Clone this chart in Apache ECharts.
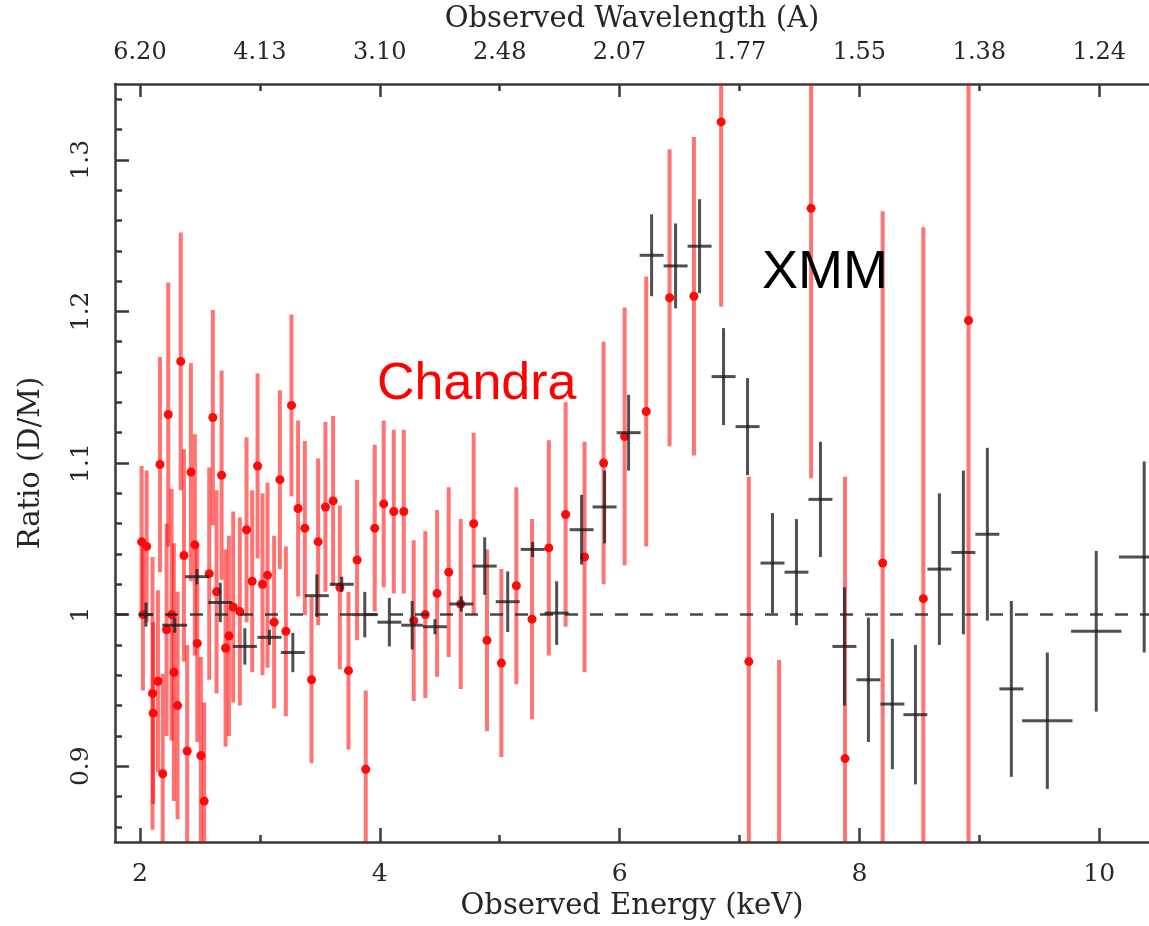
<!DOCTYPE html>
<html><head><meta charset="utf-8">
<script src="https://cdn.jsdelivr.net/npm/echarts@6/dist/echarts.min.js"></script>
<style>html,body{margin:0;padding:0;background:#fff}#c{width:1149px;height:926px}</style>
</head><body><div id="c"></div>
<script>
// ---- Chandra (red) : energy (keV), ratio, 1-sigma error
const chandraE = [2.014, 2.025, 2.056, 2.105, 2.11, 2.15, 2.167, 2.19, 2.222, 2.236, 2.264, 2.283, 2.314, 2.34, 2.367, 2.394, 2.425, 2.458, 2.478, 2.508, 2.536, 2.578, 2.608, 2.639, 2.681, 2.714, 2.742, 2.778, 2.833, 2.889, 2.936, 2.981, 3.022, 3.064, 3.119, 3.167, 3.217, 3.264, 3.319, 3.375, 3.431, 3.486, 3.547, 3.611, 3.667, 3.739, 3.811, 3.883, 3.958, 4.033, 4.117, 4.2, 4.283, 4.38, 4.478, 4.575, 4.675, 4.783, 4.894, 5.014, 5.139, 5.27, 5.41, 5.55, 5.708, 5.867, 6.042, 6.222, 6.417, 6.62, 6.847, 7.078, 7.33, 7.597, 7.88, 8.194, 8.533, 8.91];
const chandraR = [1.048, 1.000, 1.045, 0.948, 0.935, 0.956, 1.099, 0.895, 0.990, 1.132, 1.000, 0.962, 0.940, 1.167, 1.039, 0.910, 1.094, 1.046, 0.981, 0.907, 0.877, 1.027, 1.130, 1.015, 1.092, 0.978, 0.986, 1.005, 1.002, 1.056, 1.022, 1.098, 1.020, 1.026, 0.995, 1.089, 0.989, 1.138, 1.070, 1.057, 0.957, 1.048, 1.071, 1.075, 1.018, 0.963, 1.036, 0.898, 1.057, 1.073, 1.068, 1.068, 0.996, 1.000, 1.014, 1.028, 1.007, 1.060, 0.983, 0.968, 1.019, 0.997, 1.044, 1.066, 1.038, 1.100, 1.1175, 1.134, 1.209, 1.210, 1.325, 0.969, 0.780, 1.268, 0.905, 1.034, 1.0105, 1.194];
const chandraErr = [0.05, 0.05, 0.05, 0.09, 0.06, 0.06, 0.071, 0.066, 0.07, 0.087, 0.083, 0.085, 0.075, 0.085, 0.07, 0.07, 0.072, 0.073, 0.065, 0.065, 0.065, 0.07, 0.071, 0.067, 0.069, 0.065, 0.066, 0.063, 0.062, 0.061, 0.06, 0.061, 0.06, 0.061, 0.057, 0.059, 0.056, 0.06, 0.058, 0.0575, 0.055, 0.055, 0.056, 0.056, 0.054, 0.052, 0.053, 0.052, 0.055, 0.055, 0.054, 0.054, 0.053, 0.055, 0.055, 0.056, 0.056, 0.06, 0.06, 0.062, 0.065, 0.066, 0.071, 0.074, 0.076, 0.08, 0.085, 0.089, 0.098, 0.105, 0.122, 0.122, 0.19, 0.178, 0.186, 0.232, 0.245, 0.36];

// ---- XMM (black crosses): energy, half bin width, ratio, error
const xmmE = [2.05, 2.29, 2.475, 2.67, 2.875, 3.08, 3.275, 3.475, 3.683, 3.875, 4.08, 4.27, 4.46, 4.68, 4.875, 5.067, 5.275, 5.475, 5.683, 5.875, 6.075, 6.267, 6.467, 6.667, 6.867, 7.067, 7.275, 7.475, 7.675, 7.875, 8.075, 8.275, 8.467, 8.667, 8.867, 9.067, 9.267, 9.567, 9.975, 10.375];
const xmmHalfWidth = [0.06, 0.104, 0.1, 0.1, 0.1, 0.1, 0.1, 0.1, 0.1, 0.1, 0.1, 0.09, 0.1, 0.1, 0.1, 0.1, 0.1, 0.1, 0.1, 0.1, 0.1, 0.1, 0.1, 0.1, 0.1, 0.1, 0.1, 0.1, 0.1, 0.1, 0.1, 0.1, 0.1, 0.1, 0.1, 0.1, 0.1, 0.21, 0.21, 0.21];
const xmmR = [1.000, 0.993, 1.025, 1.008, 0.979, 0.985, 0.975, 1.0125, 1.020, 1.000, 0.995, 0.993, 0.992, 1.007, 1.032, 1.0085, 1.043, 1.001, 1.056, 1.071, 1.120, 1.237, 1.230, 1.243, 1.157, 1.124, 1.034, 1.028, 1.076, 0.979, 0.957, 0.941, 0.934, 1.030, 1.041, 1.053, 0.951, 0.930, 0.989, 1.038];
const xmmErr = [0.008, 0.005, 0.005, 0.013, 0.012, 0.005, 0.013, 0.014, 0.005, 0.015, 0.016, 0.016, 0.005, 0.005, 0.019, 0.020, 0.005, 0.021, 0.023, 0.024, 0.025, 0.027, 0.028, 0.031, 0.032, 0.032, 0.033, 0.035, 0.038, 0.039, 0.041, 0.043, 0.046, 0.050, 0.054, 0.057, 0.058, 0.045, 0.053, 0.063];

// ---- ticks
const energyMajorTicks = [2, 4, 6, 8, 10];
const energyMinorTicks = [3, 5, 7, 9];
const wavelengthTickE = [2, 3, 4, 5, 6, 7, 8, 9, 10];
const wavelengthLabels = ['6.20', '4.13', '3.10', '2.48', '2.07', '1.77', '1.55', '1.38', '1.24'];
const ratioMajorTicks = [0.9, 1.0, 1.1, 1.2, 1.3];
const ratioMinorTicks = [0.86, 0.88, 0.92, 0.94, 0.96, 0.98, 1.02, 1.04, 1.06, 1.08, 1.12, 1.14, 1.16, 1.18, 1.22, 1.24, 1.26, 1.28, 1.32, 1.34];
const ratioReference = 1;

const X_MIN = 1.792, X_MAX = 10.415, Y_MIN = 0.85, Y_MAX = 1.35;
const AX = '#3a3a3a';
const TXT = '#262626';
const SERIF = '"DejaVu Serif", serif';
const tickStyle = { color: AX, width: 2.5 };

function xAxisBase(pos) {
  return { type: 'value', position: pos, min: X_MIN, max: X_MAX, splitLine: { show: false },
    axisLine: { show: false, onZero: false } };
}
function yAxisBase() {
  return { type: 'value', position: 'left', min: Y_MIN, max: Y_MAX, splitLine: { show: false },
    axisLine: { show: false, onZero: false } };
}

const chart = echarts.init(document.getElementById('c'), null, { renderer: 'canvas' });

function clampY(v, cs) { return Math.min(Math.max(v, cs.y), cs.y + cs.height); }
function clampX(v, cs) { return Math.min(Math.max(v, cs.x), cs.x + cs.width); }

function renderChandra(params, api) {
  const cs = params.coordSys;
  const x = api.value(0), y = api.value(1), e = api.value(2);
  const c = api.coord([x, y]);
  const t = clampY(api.coord([x, y + e])[1], cs);
  const b = clampY(api.coord([x, y - e])[1], cs);
  const ch = [];
  if (b > t) ch.push({ type: 'line', shape: { x1: c[0], y1: t, x2: c[0], y2: b },
    style: { stroke: 'rgba(255,0,0,0.55)', lineWidth: 4 } });
  if (c[1] >= cs.y && c[1] <= cs.y + cs.height)
    ch.push({ type: 'circle', shape: { cx: c[0], cy: c[1], r: 4.5 }, style: { fill: '#ff0a0a' } });
  return { type: 'group', children: ch };
}
function renderXmm(params, api) {
  const cs = params.coordSys;
  const x = api.value(0), w = api.value(1), y = api.value(2), e = api.value(3);
  const c = api.coord([x, y]);
  const l = clampX(api.coord([x - w, y])[0], cs);
  const r = clampX(api.coord([x + w, y])[0], cs);
  const t = clampY(api.coord([x, y + e])[1], cs);
  const b = clampY(api.coord([x, y - e])[1], cs);
  const st = { stroke: 'rgba(30,30,30,0.78)', lineWidth: 3 };
  const ch = [];
  if (c[0] <= cs.x + cs.width) ch.push({ type: 'line', shape: { x1: c[0], y1: t, x2: c[0], y2: b }, style: st });
  ch.push({ type: 'line', shape: { x1: l, y1: c[1], x2: r, y2: c[1] }, style: st });
  return { type: 'group', children: ch };
}

const option = {
  animation: false,
  backgroundColor: '#fff',
  grid: { left: 115, right: 0, top: 83, bottom: 81 },
  xAxis: [
    Object.assign(xAxisBase('bottom'), {
      axisLine: { show: true, onZero: false, lineStyle: tickStyle },
      axisTick: { show: true, inside: true, length: 14, customValues: energyMajorTicks, lineStyle: tickStyle },
      axisLabel: { customValues: energyMajorTicks, margin: 20, color: TXT, fontFamily: SERIF, fontSize: 25 },
      name: 'Observed Energy (keV)', nameLocation: 'middle', nameGap: 50,
      nameTextStyle: { color: TXT, fontFamily: SERIF, fontSize: 29 }
    }),
    Object.assign(xAxisBase('bottom'), {
      axisTick: { show: true, inside: true, length: 7, customValues: energyMinorTicks, lineStyle: tickStyle },
      axisLabel: { show: false }
    }),
    Object.assign(xAxisBase('top'), {
      axisLine: { show: true, onZero: false, lineStyle: tickStyle },
      axisTick: { show: true, inside: true, length: 13, customValues: energyMajorTicks, lineStyle: tickStyle },
      axisLabel: { customValues: wavelengthTickE, margin: 19, color: TXT, fontFamily: SERIF, fontSize: 24,
        formatter: function (v) { const i = wavelengthTickE.indexOf(Math.round(v)); return i >= 0 ? wavelengthLabels[i] : ''; } },
      name: 'Observed Wavelength (A)', nameLocation: 'middle', nameGap: 50,
      nameTextStyle: { color: TXT, fontFamily: SERIF, fontSize: 29 }
    }),
    Object.assign(xAxisBase('top'), {
      axisTick: { show: true, inside: true, length: 7, customValues: energyMinorTicks, lineStyle: tickStyle },
      axisLabel: { show: false }
    })
  ],
  yAxis: [
    Object.assign(yAxisBase(), {
      axisLine: { show: true, onZero: false, lineStyle: tickStyle },
      axisTick: { show: true, inside: true, length: 14, customValues: ratioMajorTicks, lineStyle: tickStyle },
      axisLabel: { customValues: ratioMajorTicks, rotate: 90, margin: 21, color: TXT, fontFamily: SERIF, fontSize: 25 },
      name: 'Ratio (D/M)', nameLocation: 'middle', nameRotate: 90, nameGap: 69,
      nameTextStyle: { color: TXT, fontFamily: SERIF, fontSize: 29 }
    }),
    Object.assign(yAxisBase(), {
      axisTick: { show: true, inside: true, length: 7, customValues: ratioMinorTicks, lineStyle: tickStyle },
      axisLabel: { show: false }
    })
  ],
  series: [
    { type: 'custom', name: 'Chandra', xAxisIndex: 0, yAxisIndex: 0, z: 2, renderItem: renderChandra,
      data: chandraE.map((e, i) => [e, chandraR[i], chandraErr[i]]) },
    { type: 'line', name: 'ref', xAxisIndex: 0, yAxisIndex: 0, z: 3, data: [],
      markLine: { silent: true, symbol: 'none', label: { show: false }, animation: false,
        lineStyle: { color: 'rgba(40,40,40,0.85)', width: 2.5, type: [13, 12] },
        data: [{ yAxis: ratioReference }] } },
    { type: 'custom', name: 'XMM', xAxisIndex: 0, yAxisIndex: 0, z: 4, renderItem: renderXmm,
      data: xmmE.map((e, i) => [e, xmmHalfWidth[i], xmmR[i], xmmErr[i]]) }
  ],
  graphic: [
    { type: 'text', x: 377, y: 385, z: 10, style: { text: 'Chandra', fill: '#ff0000', font: '52px "Liberation Sans", Arial, sans-serif', verticalAlign: 'middle' } },
    { type: 'text', x: 762, y: 273, z: 10, style: { text: 'XMM', fill: '#000000', font: '54px "Liberation Sans", Arial, sans-serif', verticalAlign: 'middle' } }
  ]
};
chart.setOption(option);
</script></body></html>
